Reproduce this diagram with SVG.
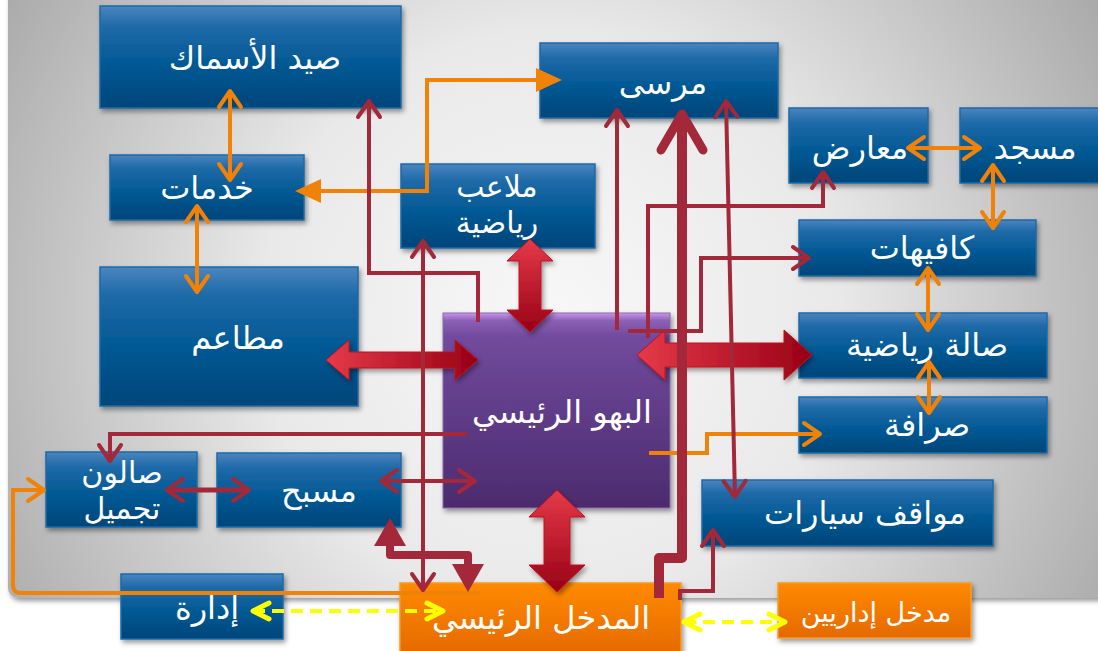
<svg xmlns="http://www.w3.org/2000/svg" width="1098" height="651" viewBox="0 0 1098 651">
<defs>
  <radialGradient id="bg" cx="550" cy="320" r="640" gradientUnits="userSpaceOnUse">
    <stop offset="0" stop-color="#f8f8f8"/>
    <stop offset="0.45" stop-color="#e9e9e9"/>
    <stop offset="1" stop-color="#a9a9a9"/>
  </radialGradient>
  <linearGradient id="gb" x1="0" y1="0" x2="0" y2="1">
    <stop offset="0" stop-color="#4a85bf"/>
    <stop offset="0.2" stop-color="#1f6aa8"/>
    <stop offset="0.55" stop-color="#035a95"/>
    <stop offset="1" stop-color="#00457a"/>
  </linearGradient>
  <linearGradient id="gp" x1="0" y1="0" x2="0" y2="1">
    <stop offset="0" stop-color="#c896ee"/>
    <stop offset="0.04" stop-color="#8a60b4"/>
    <stop offset="0.12" stop-color="#724a9e"/>
    <stop offset="1" stop-color="#4b2b6d"/>
  </linearGradient>
  <linearGradient id="go" x1="0" y1="0" x2="0" y2="1">
    <stop offset="0" stop-color="#ff8a00"/>
    <stop offset="1" stop-color="#e56900"/>
  </linearGradient>
  <linearGradient id="grh" x1="0" y1="0" x2="1" y2="0">
    <stop offset="0" stop-color="#e53a49"/>
    <stop offset="1" stop-color="#980015"/>
  </linearGradient>
  <linearGradient id="grv" x1="0" y1="0" x2="0" y2="1">
    <stop offset="0" stop-color="#e53a49"/>
    <stop offset="1" stop-color="#980015"/>
  </linearGradient>
  <filter id="sh" x="-10%" y="-10%" width="130%" height="140%">
    <feDropShadow dx="2" dy="3" stdDeviation="2.5" flood-color="#000" flood-opacity="0.4"/>
  </filter>
  <marker id="cr" viewBox="-2 -2 24 28" refX="17" refY="12" markerWidth="24" markerHeight="28" markerUnits="userSpaceOnUse" orient="auto-start-reverse" overflow="visible">
    <path d="M1,1 L17,12 L1,23" fill="none" stroke="#a3283a" stroke-width="4" stroke-linecap="round" stroke-linejoin="round"/>
  </marker>
  <marker id="co" viewBox="-2 -2 24 28" refX="17" refY="12" markerWidth="24" markerHeight="28" markerUnits="userSpaceOnUse" orient="auto-start-reverse" overflow="visible">
    <path d="M1,1 L17,12 L1,23" fill="none" stroke="#f08208" stroke-width="4" stroke-linecap="round" stroke-linejoin="round"/>
  </marker>
  <marker id="cy" viewBox="-2 -2 24 24" refX="18" refY="10" markerWidth="24" markerHeight="24" markerUnits="userSpaceOnUse" orient="auto-start-reverse" overflow="visible">
    <path d="M2,2 L18,10 L2,18" fill="none" stroke="#ffff00" stroke-width="5" stroke-linecap="round" stroke-linejoin="round"/>
  </marker>
  <marker id="to" viewBox="0 0 26 24" refX="4" refY="12" markerWidth="26" markerHeight="24" markerUnits="userSpaceOnUse" orient="auto-start-reverse" overflow="visible">
    <path d="M0,0 L26,12 L0,24 z" fill="#f08208"/>
  </marker>
  <marker id="tr" viewBox="0 0 28 32" refX="4" refY="16" markerWidth="28" markerHeight="32" markerUnits="userSpaceOnUse" orient="auto-start-reverse" overflow="visible">
    <path d="M0,0 L28,16 L0,32 z" fill="#a3283a"/>
  </marker>
  <marker id="ck" viewBox="-6 -6 50 58" refX="38" refY="23" markerWidth="50" markerHeight="58" markerUnits="userSpaceOnUse" orient="auto-start-reverse" overflow="visible">
    <path d="M2,2 L38,23 L2,44" fill="none" stroke="#a3283a" stroke-width="9" stroke-linecap="round" stroke-linejoin="round"/>
  </marker>
</defs>
<style>
  .nb{fill:url(#gb);stroke:#1c6aa8;stroke-width:1.5;filter:url(#sh)}
  .no{fill:url(#go);stroke:#f59a2a;stroke-width:1.5;filter:url(#sh)}
  .np{fill:url(#gp);stroke:#8c6aac;stroke-width:1;filter:url(#sh)}
  .t{font-family:"DejaVu Sans","Noto Sans",sans-serif;font-size:32px;fill:#ffffff;text-anchor:middle}
  .t.t2{font-size:30px}
  .lr{fill:none;stroke:#a3283a;stroke-width:4}
  .lo{fill:none;stroke:#f08208;stroke-width:4}
  .ly{fill:none;stroke:#ffff00;stroke-width:4;stroke-dasharray:12 7}
  .bh{fill:url(#grh);stroke:#c0121f;stroke-width:1;filter:url(#sh)}
  .bv{fill:url(#grv);stroke:#c0121f;stroke-width:1;filter:url(#sh)}
</style>

<rect x="8" y="-12" width="1102" height="610" rx="10" fill="url(#bg)" filter="url(#sh)"/>

<g id="node-fishing"><rect class="nb" x="100" y="6" width="301" height="102"/><text class="t" x="255" y="69">صيد الأسماك</text></g>
<g id="node-services"><rect class="nb" x="110" y="155" width="194" height="65"/><text class="t" x="207" y="199">خدمات</text></g>
<g id="node-restaurants"><rect class="nb" x="100" y="267" width="258" height="139"/><text class="t" x="238" y="349">مطاعم</text></g>
<g id="node-fields"><rect class="nb" x="401" y="164" width="194" height="84"/><text class="t t2" x="497" y="197">ملاعب</text><text class="t t2" x="497" y="233">رياضية</text></g>
<g id="node-marina"><rect class="nb" x="540" y="43" width="238" height="75"/><text class="t" x="663" y="94">مرسى</text></g>
<g id="node-exhibitions"><rect class="nb" x="789" y="108" width="139" height="75"/><text class="t" x="860" y="159">معارض</text></g>
<g id="node-mosque"><rect class="nb" x="960" y="108" width="140" height="75"/><text class="t" x="1035" y="159">مسجد</text></g>
<g id="node-cafes"><rect class="nb" x="799" y="220" width="237" height="56"/><text class="t" x="922" y="259">كافيهات</text></g>
<g id="node-gym"><rect class="nb" x="799" y="313" width="248" height="65"/><text class="t" x="927" y="356">صالة رياضية</text></g>
<g id="node-exchange"><rect class="nb" x="799" y="397" width="248" height="56"/><text class="t" x="927" y="436">صرافة</text></g>
<g id="node-parking"><rect class="nb" x="702" y="480" width="291" height="66"/><text class="t" x="865" y="524">مواقف سيارات</text></g>
<g id="node-pool"><rect class="nb" x="217" y="453" width="184" height="74"/><text class="t" x="319" y="502">مسبح</text></g>
<g id="node-salon"><rect class="nb" x="46" y="452" width="151" height="75"/><text class="t t2" x="122" y="483">صالون</text><text class="t t2" x="122" y="519">تجميل</text></g>
<g id="node-admin"><rect class="nb" x="121" y="574" width="162" height="65"/><text class="t" x="207" y="619">إدارة</text></g>
<g id="node-lobby"><rect class="np" x="443" y="313" width="227" height="195"/><text class="t" x="562" y="423">البهو الرئيسي</text></g>
<g id="node-main-entrance"><rect class="no" x="400" y="583" width="281" height="72"/><text class="t" x="541" y="629">المدخل الرئيسي</text></g>
<g id="node-staff-entrance"><rect class="no" x="778" y="583" width="193" height="55"/><text class="t" x="876" y="622" style="font-size:27px">مدخل إداريين</text></g>

<g id="connectors">
  <!-- big 3D double arrows -->
  <polygon class="bv" points="530,239 553,261 541,261 541,310 553,310 530,332 507,310 519,310 519,261 507,261"/>
  <polygon class="bh" points="326,360 349,340 349,352 455,352 455,340 478,360 455,380 455,368 349,368 349,380"/>
  <polygon class="bh" points="637,355 665,330 665,343 784,343 784,330 812,355 784,380 784,367 665,367 665,380"/>
  <polygon class="bv" points="557,490 585,517 570,517 570,565 585,565 557,592 529,565 544,565 544,517 529,517"/>

  <!-- orange -->
  <path class="lo" d="M230,91 L230,180" marker-start="url(#co)" marker-end="url(#co)"/>
  <path class="lo" d="M197,206 L197,292" marker-start="url(#co)" marker-end="url(#co)"/>
  <path class="lo" d="M317,191 L427,191 L427,80 L540,80" marker-start="url(#to)" marker-end="url(#to)"/>
  <path class="lo" d="M908,148 L980,148" marker-start="url(#co)" marker-end="url(#co)"/>
  <path class="lo" d="M993,165 L993,228" marker-start="url(#co)" marker-end="url(#co)"/>
  <path class="lo" d="M928,268 L928,330" marker-start="url(#co)" marker-end="url(#co)"/>
  <path class="lo" d="M929,362 L929,413" marker-start="url(#co)" marker-end="url(#co)"/>
  <path class="lo" d="M649,453 L707,453 L707,434 L820,434" marker-end="url(#co)"/>
  <path class="lo" d="M480,593 L21,593 Q13,593 13,585 L13,490 L44,490" marker-end="url(#co)"/>

  <!-- dark red thin -->
  <path class="lr" d="M478,322 L478,273 L369,273 L369,101" marker-end="url(#cr)"/>
  <path class="lr" d="M423,241 L423,590" marker-start="url(#cr)" marker-end="url(#cr)"/>
  <path class="lr" d="M617,330 L617,110" marker-end="url(#cr)"/>
  <path class="lr" d="M726,101 L735,497" marker-start="url(#cr)" marker-end="url(#cr)"/>
  <path class="lr" d="M648,338 L648,206 L823,206 L823,172" marker-end="url(#cr)"/>
  <path class="lr" d="M628,331 L701,331 L701,258 L809,258" marker-end="url(#cr)"/>
  <path class="lr" d="M467,434 L110,434 L110,461" marker-end="url(#cr)"/>
  <path class="lr" d="M167,490 L249,490" style="stroke-width:5" marker-start="url(#cr)" marker-end="url(#cr)"/>
  <path class="lr" d="M381,481 L475,481" marker-start="url(#cr)" marker-end="url(#cr)"/>
  <path class="lr" d="M680,600 L680,591 L713,591 L713,530" marker-end="url(#cr)"/>

  <!-- dark red thick -->
  <path class="lr" d="M659,598 L659,558 L682,558 L682,114" style="stroke-width:10;stroke-linejoin:round" marker-end="url(#ck)"/>
  <path class="lr" d="M390,542 L390,555 L468,555 L468,568" style="stroke-width:8;stroke-linejoin:round" marker-start="url(#tr)" marker-end="url(#tr)"/>

  <!-- yellow dashed -->
  <path class="ly" d="M253,611 L443,611" marker-start="url(#cy)" marker-end="url(#cy)"/>
  <path class="ly" d="M684,622 L785,622" marker-start="url(#cy)" marker-end="url(#cy)"/>
</g>
</svg>
